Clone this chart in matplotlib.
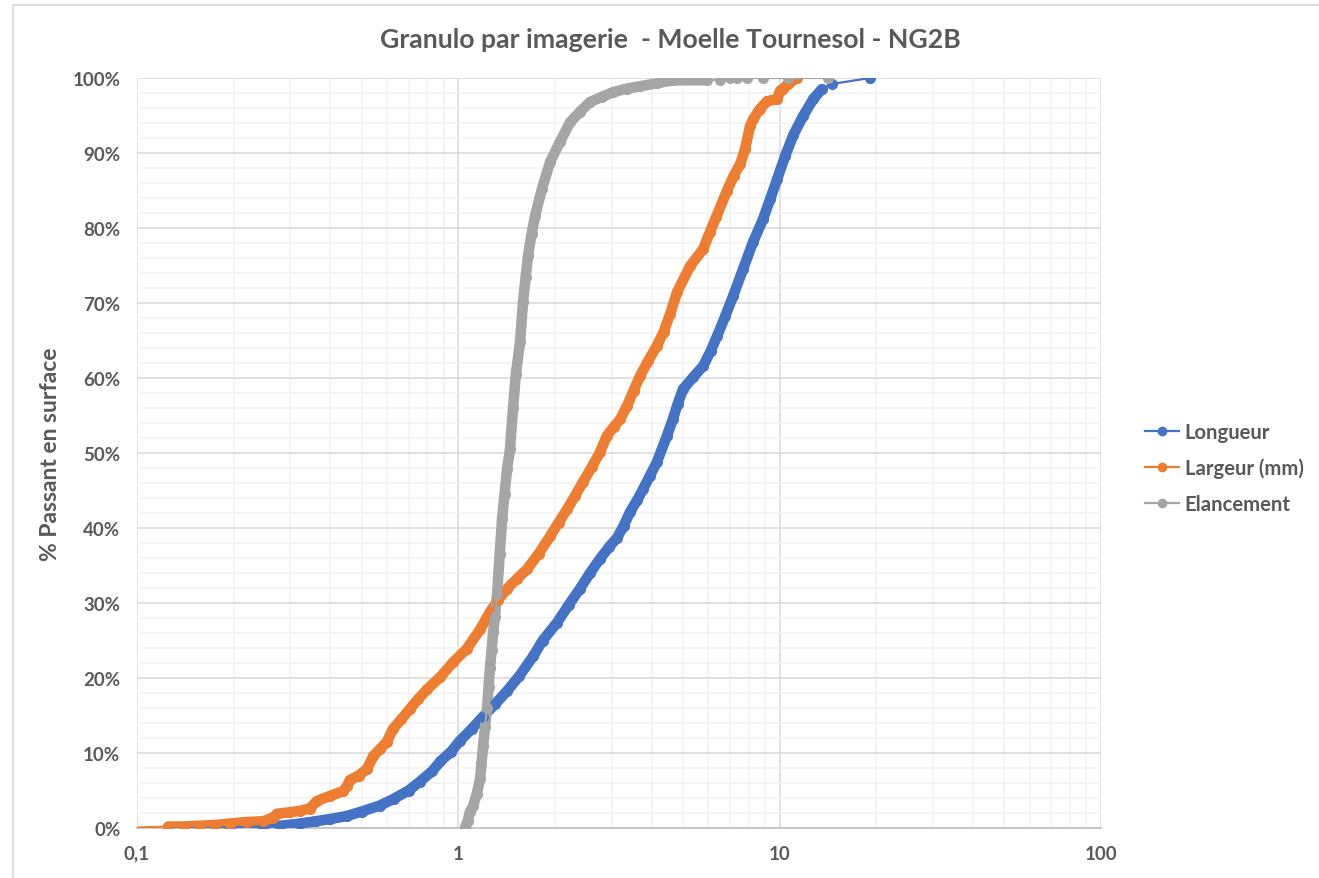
import numpy as np
import matplotlib.pyplot as plt
from matplotlib.ticker import FixedLocator, FuncFormatter, NullFormatter
from matplotlib.lines import Line2D

plt.rcParams['font.family'] = ['Lato', 'DejaVu Sans']

# Longueur : taille (mm) / % passant cumule en surface
longueur_mm = [0.125, 0.195, 0.247, 0.279, 0.322, 0.36, 0.40, 0.45, 0.50, 0.57,
               0.63, 0.70, 0.76, 0.83, 0.88, 0.95, 1.01, 1.10, 1.19, 1.30,
               1.42, 1.55, 1.71, 1.83, 2.03, 2.21, 2.39, 2.57, 2.76, 2.95,
               3.12, 3.27, 3.42, 3.60, 3.76, 3.95, 4.15, 4.46, 4.65, 4.82,
               5.00, 5.38, 5.78, 6.10, 6.39, 6.78, 7.16, 7.69, 8.26, 8.88,
               9.35, 9.82, 10.4, 11.03, 11.85, 12.73, 13.52, 14.52, 19.1]
longueur_pct = [0.0, 0.1, 0.2, 0.3, 0.6, 0.9, 1.2, 1.6, 2.2, 3.0,
                3.9, 5.0, 6.2, 7.6, 8.9, 10.2, 11.6, 13.2, 14.8, 16.5,
                18.3, 20.3, 22.9, 25.0, 27.4, 29.8, 31.9, 34.0, 35.9, 37.5,
                38.7, 40.3, 42.1, 43.7, 45.2, 47.0, 48.8, 52.3, 54.5, 56.6,
                58.5, 60.1, 61.6, 63.6, 65.6, 68.3, 70.9, 74.5, 78.1, 81.2,
                83.9, 86.5, 89.6, 92.4, 95.0, 97.2, 98.5, 99.2, 100.0]

# Largeur (mm)
largeur_mm = [0.09, 0.125, 0.14, 0.157, 0.175, 0.195, 0.22, 0.247, 0.265, 0.273,
              0.30, 0.322, 0.345, 0.363, 0.40, 0.438, 0.45, 0.46, 0.49, 0.52,
              0.544, 0.57, 0.599, 0.626, 0.665, 0.707, 0.75, 0.80, 0.877, 0.964,
              1.063, 1.17, 1.255, 1.33, 1.418, 1.52, 1.636, 1.78, 1.93, 2.05,
              2.18, 2.31, 2.44, 2.60, 2.76, 2.90, 3.05, 3.19, 3.35, 3.51,
              3.68, 3.90, 4.15, 4.35, 4.56, 4.80, 5.26, 5.78, 6.07, 6.35,
              6.86, 7.20, 7.53, 7.80, 8.09, 8.27, 8.69, 9.14, 9.82, 10.03,
              10.26, 10.62, 11.33]
largeur_pct = [0.0, 0.2, 0.2, 0.3, 0.4, 0.6, 0.8, 0.9, 1.4, 1.9,
               2.1, 2.3, 2.6, 3.6, 4.3, 4.9, 5.6, 6.4, 7.0, 7.9,
               9.6, 10.5, 11.5, 13.2, 14.5, 15.9, 17.2, 18.5, 20.1, 22.1,
               23.9, 26.5, 28.8, 30.4, 31.9, 33.2, 34.5, 36.6, 38.9, 40.7,
               42.5, 44.3, 46.1, 48.1, 50.1, 52.3, 53.5, 54.5, 56.3, 58.3,
               60.3, 62.3, 64.3, 66.1, 68.5, 71.5, 74.9, 77.2, 79.5, 81.5,
               85.0, 87.0, 88.5, 90.5, 93.6, 94.5, 95.9, 96.9, 97.2, 98.3,
               98.6, 99.2, 100.0]

# Elancement
elancement = [1.049, 1.07, 1.087, 1.111, 1.14, 1.168, 1.18, 1.194, 1.21, 1.229,
              1.242, 1.255, 1.27, 1.283, 1.30, 1.32, 1.345, 1.368, 1.393, 1.418,
              1.448, 1.48, 1.51, 1.556, 1.59, 1.62, 1.648, 1.69, 1.733, 1.82,
              1.93, 2.072, 2.228, 2.39, 2.57, 2.80, 3.03, 3.35, 3.68, 4.15,
              4.66, 5.94, 6.52, 7.01, 7.36, 7.91, 8.88, 10.62, 14.15]
elancement_pct = [0.0, 1.0, 2.2, 2.9, 4.5, 6.5, 8.5, 10.9, 13.5, 16.0,
                  18.8, 21.4, 23.8, 26.1, 28.2, 31.2, 36.5, 41.2, 44.6, 47.9,
                  50.5, 56.0, 60.5, 64.8, 70.1, 73.5, 76.3, 79.2, 81.6, 85.2,
                  88.8, 91.5, 94.1, 95.5, 96.8, 97.5, 98.1, 98.6, 98.9, 99.3,
                  99.7, 99.7, 99.8, 100.0, 100.0, 100.0, 100.0, 100.0, 100.0]

series = [
    ('Longueur', longueur_mm, longueur_pct, '#4472C4', slice(0, -2)),
    ('Largeur (mm)', largeur_mm, largeur_pct, '#ED7D31', slice(1, None)),
    ('Elancement', elancement, elancement_pct, '#A5A5A5', slice(0, 42)),
]

W, H = 1319, 879
fig = plt.figure(figsize=(W / 100, H / 100), dpi=100)
ax = fig.add_axes([137 / W, 50 / H, 964 / W, 750 / H])

txt = '#595959'
handles = []
for name, x, y, col, dense in series:
    x = np.array(x)
    y = np.array(y)
    # nuage de points serres -> bande epaisse
    ax.plot(x[dense], y[dense], color=col, lw=7.6, solid_capstyle='round',
            solid_joinstyle='round', zorder=3)
    ax.plot(x, y, color=col, lw=1.6, marker='o', ms=7, mec=col, mfc=col, zorder=4)
    handles.append(Line2D([], [], color=col, lw=1.6, marker='o', ms=6))

ax.set_xscale('log')
ax.set_xlim(0.1, 100)
ax.set_ylim(0, 100)

ax.xaxis.set_major_locator(FixedLocator([0.1, 1, 10, 100]))
ax.xaxis.set_major_formatter(FuncFormatter(lambda v, p: {0.1: '0,1', 1: '1', 10: '10', 100: '100'}.get(round(v, 3), '')))
ax.xaxis.set_minor_locator(FixedLocator([m * d for d in (0.1, 1, 10) for m in range(2, 10)]))
ax.xaxis.set_minor_formatter(NullFormatter())
ax.yaxis.set_major_locator(FixedLocator(np.arange(0, 101, 10)))
ax.yaxis.set_minor_locator(FixedLocator(np.arange(0, 101, 2)))
ax.yaxis.set_major_formatter(FuncFormatter(lambda v, p: f'{v:.0f}%'))

ax.grid(which='major', color='#d9d9d9', lw=1.1)
ax.grid(which='minor', color='#f2f2f2', lw=1.1)
ax.set_axisbelow(True)
for s in ['top', 'right', 'left']:
    ax.spines[s].set_visible(False)
ax.spines['bottom'].set_color('#bfbfbf')
ax.spines['bottom'].set_linewidth(1.2)
ax.tick_params(which='both', length=0)
ax.tick_params(axis='y', pad=12, labelsize=13.5, labelcolor=txt)
ax.tick_params(axis='x', pad=12, labelsize=13.5, labelcolor=txt)
for lab in ax.get_xticklabels() + ax.get_yticklabels():
    lab.set_fontweight('bold')

ax.set_ylabel('% Passant en surface', fontsize=16.5, fontweight='bold',
              color=txt, labelpad=8)
fig.text(670 / W, 1 - 40 / H, 'Granulo par imagerie  - Moelle Tournesol - NG2B',
         ha='center', va='center', fontsize=19.2, fontweight='bold', color=txt)

leg = fig.legend(handles, [s[0] for s in series], loc='center left',
                 bbox_to_anchor=(1145 / W, 1 - 469 / H), frameon=False,
                 borderpad=0, borderaxespad=0,
                 fontsize=14.6, handlelength=1.7, handletextpad=0.25, labelspacing=0.78)
for t in leg.get_texts():
    t.set_color(txt)
    t.set_fontweight('bold')

# cadre de la zone de graphique
fig.add_artist(Line2D([12.5 / W, 12.5 / W], [0, 1 - 6 / H], color='#d9d9d9', lw=1.2))
fig.add_artist(Line2D([12.5 / W, 1], [1 - 6 / H, 1 - 6 / H], color='#d9d9d9', lw=1.2))

fig.savefig('out.png', dpi=100)
